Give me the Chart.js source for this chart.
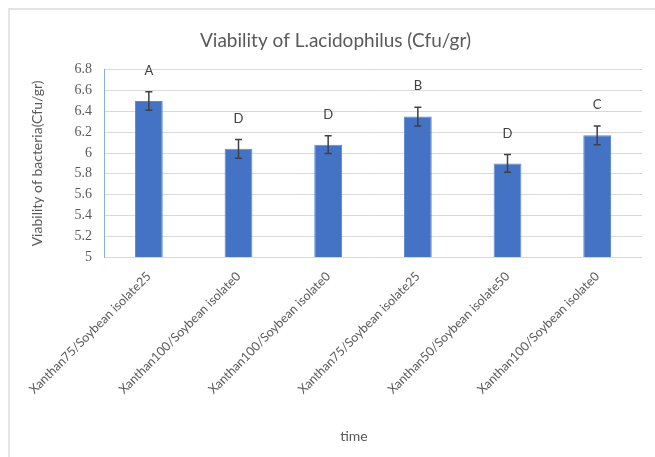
<!DOCTYPE html>
<html>
<head>
<meta charset="utf-8">
<script src="https://cdn.jsdelivr.net/npm/chart.js@4"></script>
<style>
  html, body { margin: 0; padding: 0; background: #fff; }
  #wrap { position: relative; width: 655px; height: 457px; overflow: hidden; }
  #frame { position: absolute; left: 8px; top: 8px; right: -4px; bottom: -4px;
    border-top: 2px solid #e3e3e3; border-left: 2px solid #e6e6e6; }
  canvas { position: absolute; left: 0; top: 0; }
</style>
</head>
<body>
<div id="wrap">
  <div id="frame"></div>
  <canvas id="chart" width="655" height="457"></canvas>
</div>
<script>
// Data
const categories = [
  "Xanthan75/Soybean isolate25",
  "Xanthan100/Soybean isolate0",
  "Xanthan100/Soybean isolate0",
  "Xanthan75/Soybean isolate25",
  "Xanthan50/Soybean isolate50",
  "Xanthan100/Soybean isolate0"
];
const viability = [6.50, 6.04, 6.08, 6.35, 5.90, 6.17];
const errors = [0.09, 0.09, 0.085, 0.09, 0.085, 0.09];
const letters = ["A", "D", "D", "B", "D", "C"];
const yMin = 5, yMax = 6.8, yStep = 0.2;
const xTitle = "time";

const grey = "#595959";

// error bars, significance letters and the x title (sits a bit left of centre in the original)
const errorBarPlugin = {
  id: "errorBars",
  afterDatasetsDraw(chart) {
    const ctx = chart.ctx;
    const y = chart.scales.y;
    const meta = chart.getDatasetMeta(0);
    ctx.save();
    meta.data.forEach((bar, i) => {
      const x = bar.x;
      const top = y.getPixelForValue(viability[i] + errors[i]);
      const bot = y.getPixelForValue(viability[i] - errors[i]);
      ctx.strokeStyle = "#404040";
      ctx.lineWidth = 1.5;
      ctx.beginPath();
      ctx.moveTo(x, top); ctx.lineTo(x, bot);
      ctx.moveTo(x - 3.5, top); ctx.lineTo(x + 3.5, top);
      ctx.moveTo(x - 3.5, bot); ctx.lineTo(x + 3.5, bot);
      ctx.stroke();
      ctx.fillStyle = "#404040";
      ctx.font = "13px Lato";
      ctx.textAlign = "center";
      ctx.textBaseline = "middle";
      ctx.fillText(letters[i], x, top - 21);
    });
    const area = chart.chartArea;
    ctx.fillStyle = grey;
    ctx.font = "14px Lato";
    ctx.fillText(xTitle, (area.left + area.right) / 2 - 19, 436);
    ctx.restore();
  }
};

new Chart(document.getElementById("chart"), {
  type: "bar",
  data: {
    labels: categories,
    datasets: [{
      data: viability,
      backgroundColor: "#4472C4",
      borderColor: "#5B87D3",
      borderWidth: 1,
      barPercentage: 0.31,
      categoryPercentage: 1
    }]
  },
  options: {
    responsive: false,
    animation: false,
    layout: { padding: { left: 29, right: 13, top: 0, bottom: 8 } },
    plugins: {
      legend: { display: false },
      tooltip: { enabled: false },
      title: {
        display: true,
        text: "Viability of L.acidophilus (Cfu/gr)",
        color: grey,
        font: { family: "Lato", size: 19, weight: "normal" },
        padding: { top: 29, bottom: 18 }
      }
    },
    scales: {
      x: {
        grid: { display: false },
        border: { display: false },
        ticks: {
          color: grey,
          font: { family: "Lato", size: 12.5 },
          minRotation: 45,
          maxRotation: 45,
          padding: 4
        },
        afterFit(scale) { scale.height = 192; }
      },
      y: {
        min: yMin,
        max: yMax,
        grid: { color: "#d9d9d9", lineWidth: 1, drawTicks: false },
        border: { display: true, color: "#8fabd9", width: 1 },
        ticks: {
          stepSize: yStep,
          color: grey,
          font: { family: "'Liberation Serif', 'DejaVu Serif', serif", size: 14 },
          padding: 12,
          callback: v => String(+v.toFixed(1))
        },
        title: {
          display: true,
          text: "Viability of bacteria(Cfu/gr)",
          color: grey,
          font: { family: "Lato", size: 14 },
          padding: { top: 0, bottom: 0 }
        },
        afterFit(scale) { scale.width = 75; }
      }
    }
  },
  plugins: [errorBarPlugin]
});
</script>
</body>
</html>
